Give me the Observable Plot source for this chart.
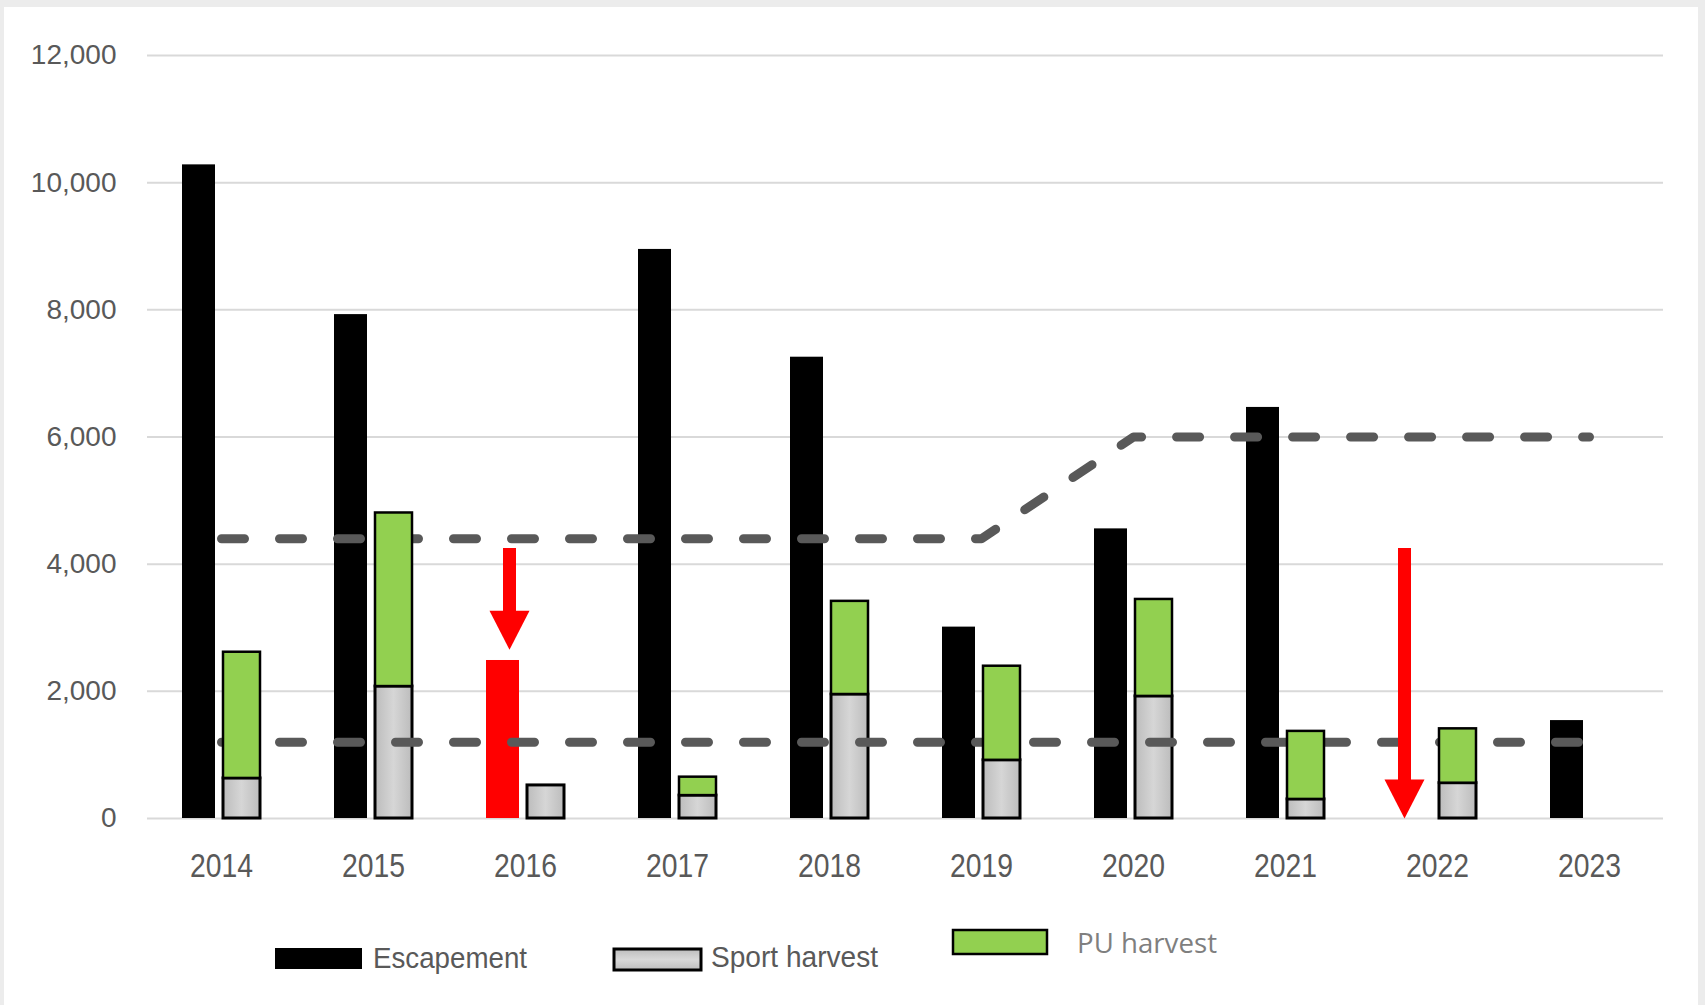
<!DOCTYPE html>
<html>
<head>
<meta charset="utf-8">
<script src="https://cdn.jsdelivr.net/npm/d3@7"></script>
<script src="https://cdn.jsdelivr.net/npm/@observablehq/plot@0.6"></script>
<style>
  html, body { margin: 0; padding: 0; background: #ececec; }
  #page { position: relative; width: 1705px; height: 1005px; background: #ececec; overflow: hidden; }
  #inner { position: absolute; left: 4px; top: 7px; width: 1694px; height: 998px; background: #ffffff; }
  #chart { position: absolute; left: 0; top: 0; }
  #legend { position: absolute; left: 0; top: 898px; }
  svg { font-family: "Liberation Sans", Arial, sans-serif; }
</style>
</head>
<body>
<div id="page">
  <div id="inner"></div>
  <div id="chart"></div>
  <div id="legend"></div>
</div>
<script>
// ---- data ----
const years        = [2014, 2015, 2016, 2017, 2018, 2019, 2020, 2021, 2022, 2023];
const escapement   = [10280, 7925, 2485, 8950, 7255, 3010, 4555, 6465, null, 1540];
const sportHarvest = [630, 2075, 520, 360, 1950, 915, 1920, 300, 555, null];
const puHarvest    = [1985, 2730, null, 290, 1465, 1480, 1525, 1070, 855, null];
const goalUpper    = [4400, 4400, 4400, 4400, 4400, 4400, 6000, 6000, 6000, 6000];
const goalLower    = [1200, 1200, 1200, 1200, 1200, 1200, 1200, 1200, 1200, 1200];
const highlightYear = 2016;            // escapement bar drawn in red
const arrowYears  = [2016, 2022];
const arrowTops   = [4245, 4245];
const arrowTips   = [2655, 0];
const yTicks      = [0, 2000, 4000, 6000, 8000, 10000, 12000];
const seriesNames = ["Escapement", "Sport harvest", "PU harvest"];

// ---- tables built from the arrays ----
const rows = years.map((year, i) => ({
  year,
  escapement: escapement[i],
  sport: sportHarvest[i],
  pu: puHarvest[i],
  upper: goalUpper[i],
  lower: goalLower[i]
}));
const escRows = rows.filter(d => d.escapement != null);
const sportRows = rows.filter(d => d.sport != null);
const puRows = rows.filter(d => d.pu != null).map(d => ({year: d.year, y1: d.sport, y2: d.sport + d.pu}));
const arrows = arrowYears.map((year, i) => ({year, top: arrowTops[i], tip: arrowTips[i]}));

const RED = "#ff0000";
const GREEN = "#92d050";
const arrowHead = {
  draw(context) {
    context.moveTo(-20, -39);
    context.lineTo(20, -39);
    context.lineTo(0, 0);
    context.closePath();
  }
};
const dashStyle = {x: "year", stroke: "#595959", strokeWidth: 9, strokeDasharray: "23,35", strokeLinecap: "round"};

function arrowMarks(year, dx) {
  const data = arrows.filter(d => d.year === year);
  return [
    Plot.ruleX(data, {x: "year", y1: "top", y2: "tip", stroke: RED, strokeWidth: 13, insetBottom: 30, dx}),
    Plot.dot(data, {x: "year", y: "tip", symbol: arrowHead, r: 10, fill: RED, stroke: "none", dx})
  ];
}

const chart = Plot.plot({
  width: 1705,
  height: 898,
  marginLeft: 144,
  marginRight: 39,
  marginTop: 55,
  marginBottom: 80,
  style: {background: "transparent", color: "#595959", fontFamily: "'Liberation Sans', Arial, sans-serif"},
  x: {type: "band", domain: years, padding: 0, axis: null, label: null},
  y: {domain: [0, 12000], axis: null, label: null},
  marks: [
    Plot.ruleY(yTicks, {stroke: "#d9d9d9", strokeWidth: 2, insetLeft: 3, insetRight: 3}),
    Plot.axisY({ticks: yTicks, tickSize: 0, tickPadding: 28, tickFormat: d3.format(","), fontSize: 28, fill: "#595959", label: null}),
    Plot.axisX({tickSize: 0, tickPadding: 35, tickFormat: d => String(d), fontSize: 33, fill: "#595959", label: null}),
    // escapement bars
    Plot.barY(escRows, {x: "year", y: "escapement", fill: d => d.year === highlightYear ? RED : "#000000", insetLeft: 37, insetRight: 82}),
    // sport harvest
    Plot.barY(sportRows, {x: "year", y: "sport", fill: "url(#sportGrad)", stroke: "#000", strokeWidth: 3, insetLeft: 78, insetRight: 37}),
    // escapement goal lines
    Plot.line(rows, {...dashStyle, y: "lower"}),
    Plot.line(rows, {...dashStyle, y: "upper"}),
    // PU harvest, stacked on sport harvest
    Plot.rectY(puRows, {x: "year", y1: "y1", y2: "y2", fill: GREEN, stroke: "#000", strokeWidth: 2.5, insetLeft: 78, insetRight: 37}),
    // red annotation arrows
    ...arrowMarks(2016, -16),
    ...arrowMarks(2022, -33)
  ]
});

d3.select(chart).insert("defs", ":first-child").html(
  '<linearGradient id="sportGrad" x1="0" x2="1" y1="0" y2="0">' +
  '<stop offset="0" stop-color="#bcbcbc"/><stop offset="0.5" stop-color="#d6d6d6"/><stop offset="1" stop-color="#bcbcbc"/>' +
  '</linearGradient>'
);
// condensed year labels like the reference
d3.select(chart).selectAll('g[aria-label="x-axis tick label"] text')
  .attr("textLength", 63).attr("lengthAdjust", "spacingAndGlyphs");

document.getElementById("chart").appendChild(chart);

// ---- legend (below the plot SVG) ----
const leg = d3.select("#legend").append("svg")
  .attr("width", 1705).attr("height", 107)
  .style("font-family", "'Liberation Sans', Arial, sans-serif");
const oy = 898;
leg.append("rect").attr("x", 275).attr("y", 948 - oy).attr("width", 87).attr("height", 21).attr("fill", "#000");
leg.append("text").attr("x", 373).attr("y", 968 - oy).attr("font-size", 30).attr("fill", "#595959")
  .attr("textLength", 154).attr("lengthAdjust", "spacingAndGlyphs").text(seriesNames[0]);
leg.append("defs").html('<linearGradient id="sportGradL" x1="0" x2="0" y1="0" y2="1"><stop offset="0" stop-color="#bdbdbd"/><stop offset="0.5" stop-color="#d8d8d8"/><stop offset="1" stop-color="#bdbdbd"/></linearGradient>');
leg.append("rect").attr("x", 614).attr("y", 949 - oy).attr("width", 87).attr("height", 21)
  .attr("fill", "url(#sportGradL)").attr("stroke", "#000").attr("stroke-width", 3);
leg.append("text").attr("x", 711).attr("y", 967 - oy).attr("font-size", 30).attr("fill", "#595959")
  .attr("textLength", 167).attr("lengthAdjust", "spacingAndGlyphs").text(seriesNames[1]);
leg.append("rect").attr("x", 953).attr("y", 930 - oy).attr("width", 94).attr("height", 24)
  .attr("fill", GREEN).attr("stroke", "#000").attr("stroke-width", 2.5);
leg.append("text").attr("x", 1077).attr("y", 953 - oy).attr("font-size", 28).attr("fill", "#7f7f7f")
  .style("font-family", "'Open Sans', 'Liberation Sans', sans-serif")
  .attr("textLength", 140).attr("lengthAdjust", "spacingAndGlyphs").text(seriesNames[2]);
</script>
</body>
</html>
